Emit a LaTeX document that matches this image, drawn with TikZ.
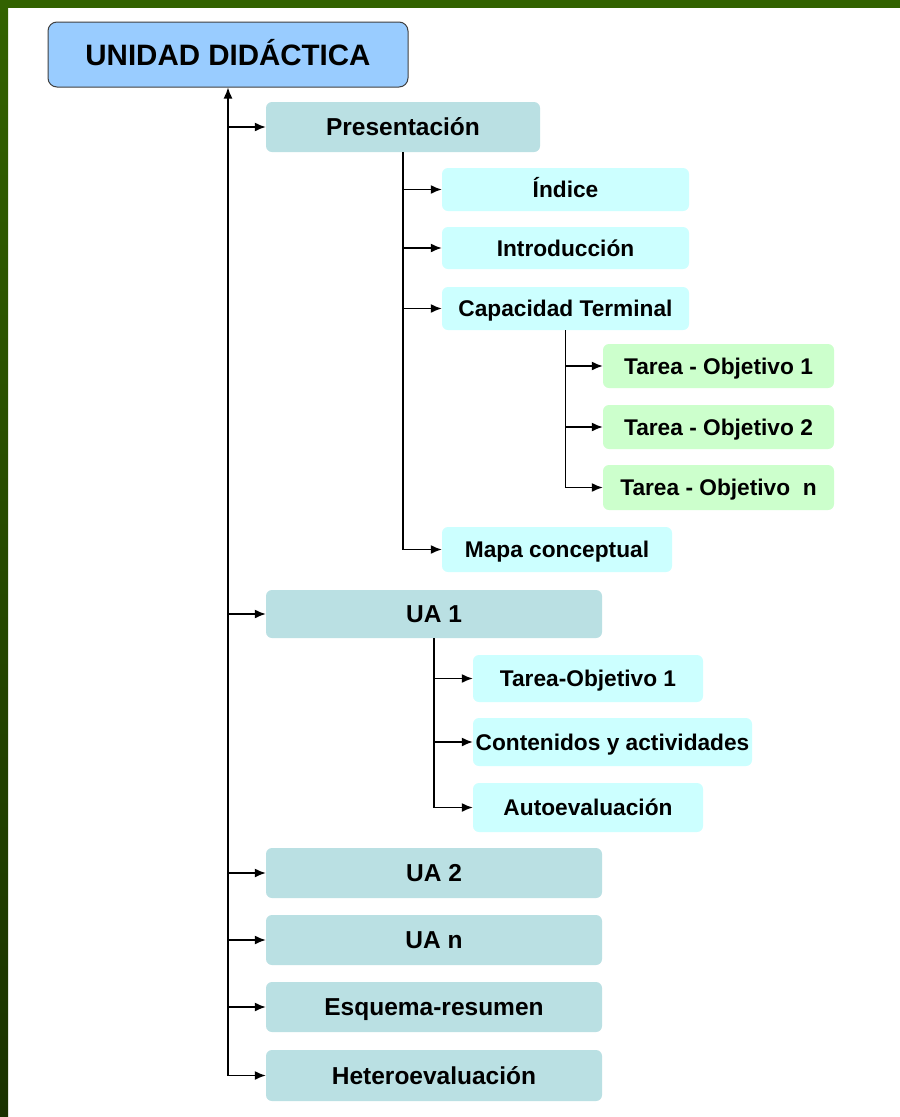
\documentclass[tikz,border=0pt]{standalone}
\usepackage{fontspec}
\setmainfont{Liberation Sans}
\usetikzlibrary{arrows.meta}
\definecolor{framegreen}{RGB}{50,98,0}
\definecolor{framedark}{RGB}{26,50,0}
\definecolor{titleblue}{RGB}{153,204,255}
\definecolor{unitteal}{RGB}{186,224,227}
\definecolor{partcyan}{RGB}{204,255,255}
\definecolor{taskgreen}{RGB}{204,255,204}
\tikzset{
  topbox/.style={draw=black!75,line width=1pt,fill=titleblue,rounded corners=9pt,font=\fontsize{29.5}{32}\selectfont\bfseries,minimum width=360pt,minimum height=65pt,inner sep=0pt,text height=21pt,text depth=0pt},
  unitbox/.style={fill=unitteal,rounded corners=6pt,font=\fontsize{24.5}{27}\selectfont\bfseries,minimum width=336pt,minimum height=50pt,inner sep=0pt,text height=17.5pt,text depth=0pt},
  partbox/.style={fill=partcyan,rounded corners=6pt,font=\fontsize{22.7}{25}\selectfont\bfseries,minimum width=247pt,minimum height=43pt,inner sep=0pt,text height=16.3pt,text depth=0pt},
  taskbox/.style={fill=taskgreen,rounded corners=6pt,font=\fontsize{22.7}{25}\selectfont\bfseries,minimum width=231pt,minimum height=44pt,inner sep=0pt,text height=16.3pt,text depth=0pt},
  linkarr/.style={-{Latex[length=11pt,width=9pt]},line width=1.5pt},
  linkline/.style={line width=1.5pt}
}
\begin{document}
\begin{tikzpicture}[x=1pt,y=-1pt]
  % frame
  \useasboundingbox (0,0) rectangle (900,1117);
  \fill[white] (0,0) rectangle (900,1117);
  \fill[framegreen] (0,0) rectangle (900,8);
  \shade[top color=framegreen,bottom color=framedark] (0,0) rectangle (8,1117);

  % root
  \node[topbox] (ud) at (228,54.5) {UNIDAD DIDÁCTICA};

  % first level
  \node[unitbox,minimum width=274pt] (pres) at (403,127) {Presentación};
  \node[unitbox,minimum height=48pt] (ua1) at (434,614) {UA 1};
  \node[unitbox] (ua2) at (434,873) {UA 2};
  \node[unitbox] (uan) at (434,940) {UA n};
  \node[unitbox] (esq) at (434,1007) {Esquema-resumen};
  \node[unitbox,minimum height=51pt] (het) at (434,1075.5) {Heteroevaluación};

  % presentacion
  \node[partbox] (ind) at (565.5,189.5) {Índice};
  \node[partbox,minimum height=42pt] (intro) at (565.5,248) {Introducción};
  \node[partbox] (capt) at (565.5,308.5) {Capacidad Terminal};
  \node[partbox,minimum width=230pt,minimum height=45pt] (mapa) at (557,549.5) {Mapa conceptual};

  % capacidad terminal
  \node[taskbox] (tob1) at (718.5,366) {Tarea - Objetivo 1};
  \node[taskbox] (tob2) at (718.5,427) {Tarea - Objetivo 2};
  \node[taskbox,minimum height=45pt] (tobn) at (718.5,487.5) {Tarea - Objetivo\ \ n};

  % ua 1
  \node[partbox,minimum width=230pt,minimum height=47pt] (uto) at (588,678.5) {Tarea-Objetivo 1};
  \node[partbox,minimum width=279pt,minimum height=48pt] (ucon) at (612.5,742) {Contenidos y actividades};
  \node[partbox,minimum width=230pt,minimum height=49pt] (uaut) at (588,807.5) {Autoevaluación};

  % connectors
  \draw[linkarr] (ud.south |- het.west) -- (ud.south);
  \foreach \n in {pres,ua1,ua2,uan,esq,het}
    \draw[linkarr] (ud.south |- \n.west) -- (\n.west);

  \draw[linkline] (pres.south) -- (pres.south |- mapa.west);
  \foreach \n in {ind,intro,capt,mapa}
    \draw[linkarr] (pres.south |- \n.west) -- (\n.west);

  \draw[linkline] (capt.south) -- (capt.south |- tobn.west);
  \foreach \n in {tob1,tob2,tobn}
    \draw[linkarr] (capt.south |- \n.west) -- (\n.west);

  \draw[linkline] (ua1.south) -- (ua1.south |- uaut.west);
  \foreach \n in {uto,ucon,uaut}
    \draw[linkarr] (ua1.south |- \n.west) -- (\n.west);
\end{tikzpicture}
\end{document}
